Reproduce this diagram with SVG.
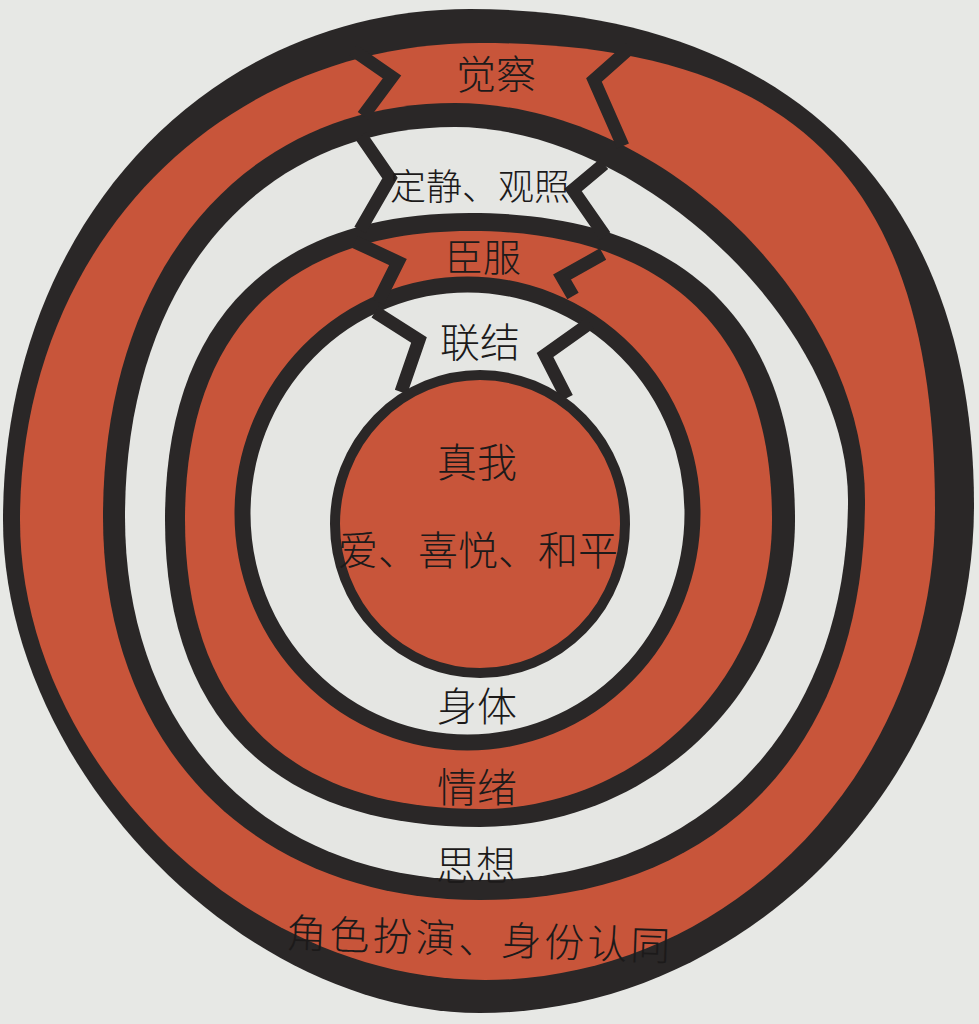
<svg xmlns="http://www.w3.org/2000/svg" width="979" height="1024" viewBox="0 0 979 1024">
  <style>
    .ink { fill: #2a2727; }
    .red { fill: #c8553a; }
    .paper { fill: #e5e6e3; }
    .gate { fill: none; stroke: #2a2727; stroke-width: 13; stroke-linejoin: miter; stroke-linecap: butt; }
    .lbl { font-family: "Noto Sans CJK SC", "Noto Sans CJK TC", sans-serif; font-size: 40px; font-weight: 300; fill: #1c1a1a; text-anchor: middle; dominant-baseline: central; }
  </style>
  <rect x="0" y="0" width="979" height="1024" fill="#e7e8e5"/>

  <g id="ring-role-identity">
    <path class="ink" d="M470,9 C787.5,9 974,192.5 974,505 C974,779.3 746.8,1013 480,1013 C241.5,1013 3,766.5 3,520 C3,228.7 203.8,9 470,9 Z"/>
    <path class="red" d="M480,43 C798.5,43 935,183.1 935,510 C935,768.5 732.5,980 485,980 C243.2,980 20,759.2 20,520 C20,248.1 217.8,43 480,43 Z"/>
  </g>

  <g id="ring-thought">
    <path class="ink" d="M455,103 C660,103 865,301.5 865,500 C865,748 718.7,900 480,900 C253.8,900 103,746.8 103,517 C103,268.6 243.8,103 455,103 Z"/>
    <path class="paper" d="M455,127 C639.7,127 848,324.7 848,500 C848,728 700.8,880 480,880 C267,880 125,734.8 125,517 C125,283 257,127 455,127 Z"/>
  </g>

  <g id="ring-emotion">
    <path class="ink" d="M470,213 C681.25,213 795,320.45 795,520 C795,688.85 653.25,827 480,827 C275.25,827 165,719.55 165,520 C165,320.45 271.75,213 470,213 Z"/>
    <path class="red" d="M470,231 C666.3,231 772,332.15 772,520 C772,679 640.6,809 480,809 C288.25,809 185,707.85 185,520 C185,332.15 284.75,231 470,231 Z"/>
  </g>

  <g id="ring-body">
    <ellipse cx="467.5" cy="513.5" rx="225" ry="229" fill="#e5e6e3" stroke="#2a2727" stroke-width="16"/>
  </g>

  <g id="gateways">
    <polyline class="gate" points="353,50 392,77 363,116"/>
    <polyline class="gate" points="630,48 594,80 623,146"/>
    <polyline class="gate" points="361,136 390,178 360,230"/>
    <polyline class="gate" points="604,164 573,190 605,236"/>
    <polyline class="gate" points="355,242 398,262 378,302"/>
    <polyline class="gate" points="603,254 562,277 573,296"/>
    <polyline class="gate" points="375,312 419,340 401,392"/>
    <polyline class="gate" points="590,323 545,355 567,398"/>
  </g>

  <g id="core-self">
    <ellipse cx="480" cy="524" rx="145" ry="149" fill="#c8553a" stroke="#2a2727" stroke-width="10"/>
  </g>

  <g id="labels">
    <text class="lbl" x="496" y="72">觉察</text>
    <text class="lbl" x="480" y="184" style="font-size:36px">定静、观照</text>
    <text class="lbl" x="483" y="254" style="font-size:38px">臣服</text>
    <text class="lbl" x="480" y="340">联结</text>
    <text class="lbl" x="477" y="460">真我</text>
    <text class="lbl" x="478" y="548">爱、喜悦、和平</text>
    <text class="lbl" x="477" y="704">身体</text>
    <text class="lbl" x="477" y="785">情绪</text>
    <text class="lbl" x="476" y="863">思想</text>
    <text class="lbl" x="480" y="937" style="letter-spacing:3px" transform="rotate(2 480 937)">角色扮演、身份认同</text>
  </g>
</svg>
